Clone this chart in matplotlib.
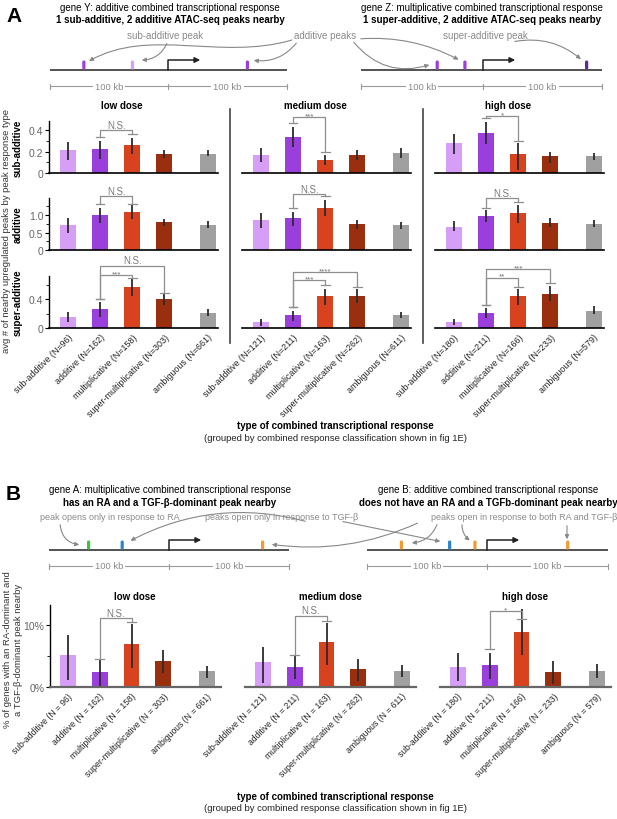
import matplotlib
matplotlib.use("Agg")
import matplotlib.pyplot as plt
from matplotlib.patches import FancyArrowPatch, FancyBboxPatch
from matplotlib.path import Path

plt.rcParams["font.family"] = ["Liberation Sans", "DejaVu Sans"]

# ---- data -----------------------------------------------------------------
CATEGORIES = ["sub-additive", "additive", "multiplicative", "super-multiplicative", "ambiguous"]
DOSES = ["low dose", "medium dose", "high dose"]
ROW_NAMES = ["sub-additive", "additive", "super-additive"]

N_LOW = [96, 162, 158, 303, 661]
N_MED = [121, 211, 163, 262, 611]
N_HIGH = [180, 211, 166, 233, 579]

# panel A: avg # of nearby upregulated peaks, rows = peak response type
A_LOW_MEAN = [[0.21, 0.22, 0.26, 0.18, 0.18],
              [0.71, 1.00, 1.10, 0.80, 0.73],
              [0.15, 0.26, 0.57, 0.40, 0.21]]
A_LOW_LO = [[0.12, 0.13, 0.18, 0.14, 0.16],
            [0.50, 0.78, 0.90, 0.68, 0.64],
            [0.08, 0.16, 0.45, 0.32, 0.17]]
A_LOW_HI = [[0.29, 0.30, 0.33, 0.21, 0.21],
            [0.92, 1.20, 1.28, 0.90, 0.82],
            [0.22, 0.36, 0.68, 0.47, 0.26]]

A_MED_MEAN = [[0.165, 0.34, 0.125, 0.165, 0.19],
              [0.86, 0.92, 1.21, 0.74, 0.72],
              [0.08, 0.18, 0.44, 0.45, 0.18]]
A_MED_LO = [[0.10, 0.245, 0.073, 0.12, 0.14],
            [0.64, 0.69, 0.97, 0.61, 0.61],
            [0.03, 0.10, 0.32, 0.35, 0.14]]
A_MED_HI = [[0.23, 0.43, 0.165, 0.21, 0.23],
            [1.07, 1.09, 1.42, 0.85, 0.81],
            [0.13, 0.24, 0.55, 0.54, 0.22]]

A_HIGH_MEAN = [[0.28, 0.375, 0.175, 0.155, 0.155],
               [0.67, 0.97, 1.07, 0.78, 0.75],
               [0.09, 0.21, 0.44, 0.48, 0.24]]
A_HIGH_LO = [[0.18, 0.27, 0.03, 0.095, 0.12],
             [0.55, 0.80, 0.78, 0.67, 0.66],
             [0.04, 0.14, 0.32, 0.38, 0.19]]
A_HIGH_HI = [[0.36, 0.48, 0.28, 0.20, 0.19],
             [0.83, 1.14, 1.30, 0.92, 0.86],
             [0.13, 0.28, 0.54, 0.58, 0.30]]

# significance brackets: (row, bar i, bar j, line height, end i, end j, label)
A_LOW_SIG = [(0, 1, 2, 0.40, 0.333, 0.36, "N.S."), (1, 1, 2, 1.54, 1.32, 1.32, "N.S."),
             (2, 1, 2, 0.74, 0.40, 0.70, "***"), (2, 1, 3, 0.87, 0.40, 0.49, "N.S.")]
A_MED_SIG = [(0, 1, 2, 0.52, 0.47, 0.20, "***"), (1, 1, 2, 1.60, 1.19, 1.54, "N.S."),
             (2, 1, 2, 0.67, 0.29, 0.60, "***"), (2, 1, 3, 0.78, 0.29, 0.57, "****")]
A_HIGH_SIG = [(0, 1, 2, 0.53, 0.51, 0.30, "*"), (1, 1, 2, 1.49, 1.21, 1.38, "N.S."),
              (2, 1, 2, 0.70, 0.32, 0.57, "**"), (2, 1, 3, 0.82, 0.32, 0.63, "***")]

A_YLIM = [0.485, 1.49, 0.725]
A_YTICKS = [[0, 0.2, 0.4], [0, 0.5, 1.0], [0, 0.4]]
A_YTICKLABELS = [["0", "0.2", "0.4"], ["0", "0.5", "1.0"], ["0", "0.4"]]
A_YMINOR = [[0.1, 0.3], [0.25, 0.75, 1.25], [0.2, 0.6]]

# panel B: % of genes with an RA-dominant and a TGF-b-dominant peak nearby
B_LOW_MEAN = [5.2, 2.45, 6.9, 4.2, 2.55]
B_LOW_LO = [1.1, 0.2, 3.1, 2.3, 1.4]
B_LOW_HI = [8.3, 4.4, 10.2, 5.9, 3.45]
B_MED_MEAN = [4.0, 3.2, 7.2, 2.9, 2.6]
B_MED_LO = [0.6, 1.3, 3.55, 1.0, 1.65]
B_MED_HI = [6.45, 5.0, 10.3, 4.45, 3.55]
B_HIGH_MEAN = [3.2, 3.6, 8.9, 2.35, 2.6]
B_HIGH_LO = [1.0, 1.3, 5.2, 0.45, 1.5]
B_HIGH_HI = [5.4, 5.5, 12.5, 4.15, 3.7]
B_SIG = [(1, 2, 11.1, 4.5, 10.4, "N.S."), (1, 2, 11.5, 5.2, 10.7, "N.S."),
         (1, 2, 12.2, 6.1, 11.0, "*")]

# schematic peak positions (kb from TSS)
GENE_Y_PEAKS = [-71, -30, 67]
GENE_Z_PEAKS = [-38, -15, 86]
GENE_A_PEAKS = [-67, -39, 78]
GENE_B_PEAKS = [-71, -31, -10, 67]

# ---- style ----------------------------------------------------------------
BAR_COLORS = ["#d69ef6", "#9a3edc", "#d8421f", "#9a2f10", "#a0a0a0"]
XPOS = [0, 1, 2, 3, 4.35]
SUPER_PEAK = "#5e2a8c"
GREEN, BLUE, ORANGE = "#3ec43e", "#2b86c9", "#f29a2e"
GREY_TXT = "#8a8a8a"
BRACKET = "#8e8e8e"

W, H = 617, 820
fig = plt.figure(figsize=(W / 100, H / 100), dpi=100)


def px_axes(x, y, w, h):
    return fig.add_axes([x / W, 1 - (y + h) / H, w / W, h / H])


def bracket(ax, x0, x1, top, y0, y1, label, cap=0.13):
    kw = dict(color=BRACKET, lw=0.9, clip_on=False, zorder=4)
    ax.plot([x0, x0, x1, x1], [y0, top, top, y1], **kw)
    ax.plot([x0 - cap, x0 + cap], [y0, y0], **kw)
    ax.plot([x1 - cap, x1 + cap], [y1, y1], **kw)
    if label == "N.S.":
        ax.annotate(label, xy=((x0 + x1) / 2, top), xytext=(0, 0.3), textcoords="offset points",
                    ha="center", va="bottom", fontsize=7, color="#7a7a7a", annotation_clip=False)
    else:
        ax.annotate(label, xy=((x0 + x1) / 2, top), xytext=(0, 0), textcoords="offset points",
                    ha="center", va="baseline", fontsize=5.8, color="#6e6e6e",
                    annotation_clip=False)


def bar_panel(ax, mean, lo, hi, xlim, ylim):
    ax.bar(XPOS, mean, width=0.5, color=BAR_COLORS, zorder=2)
    ax.vlines(XPOS, lo, hi, color="#2b2b2b", lw=1.3, zorder=3)
    ax.set_xlim(*xlim)
    ax.set_ylim(0, ylim)
    for s in ("top", "right"):
        ax.spines[s].set_visible(False)
    ax.spines["bottom"].set_linewidth(1.2)
    ax.spines["left"].set_linewidth(1.0)
    ax.set_facecolor("none")
    ax.tick_params(axis="x", length=0)
    ax.tick_params(axis="y", labelsize=7.5, labelcolor="#666666", length=3, width=0.8, pad=1)
    ax.tick_params(axis="y", which="minor", length=2, width=0.6)


# ---- panel A bar grid -------------------------------------------------------
A_LEFT = [49, 242, 435]
A_TOP = [122, 199, 277]
A_W, A_H = 169, 52
a_means = [A_LOW_MEAN, A_MED_MEAN, A_HIGH_MEAN]
a_los = [A_LOW_LO, A_MED_LO, A_HIGH_LO]
a_his = [A_LOW_HI, A_MED_HI, A_HIGH_HI]
a_sigs = [A_LOW_SIG, A_MED_SIG, A_HIGH_SIG]
n_all = [N_LOW, N_MED, N_HIGH]

for c in range(3):
    axes = []
    for r in range(3):
        ax = px_axes(A_LEFT[c], A_TOP[r], A_W, A_H)
        bar_panel(ax, a_means[c][r], a_los[c][r], a_his[c][r], (-0.6, 4.67), A_YLIM[r])
        if c == 0:
            ax.set_yticks(A_YTICKS[r])
            ax.set_yticklabels(A_YTICKLABELS[r])
            ax.set_yticks(A_YMINOR[r], minor=True)
        else:
            ax.spines["left"].set_visible(False)
            ax.set_yticks([])
        if r == 2:
            ax.set_xticks(XPOS)
            ax.set_xticklabels([f"{k} (N={n})" for k, n in zip(CATEGORIES, n_all[c])],
                               rotation=45, ha="right", rotation_mode="anchor",
                               fontsize=6.4, color="#222222")
            ax.tick_params(axis="x", pad=3)
        else:
            ax.set_xticks([])
        axes.append(ax)
    for (r, i, j, top, yi, yj, lab) in a_sigs[c]:
        bracket(axes[r], XPOS[i], XPOS[j], top, yi, yj, lab)

# ---- panel B bars -----------------------------------------------------------
B_LEFT = [50, 245, 440]
B_TOP, B_H, B_W = 606, 82, 171
b_means = [B_LOW_MEAN, B_MED_MEAN, B_HIGH_MEAN]
b_los = [B_LOW_LO, B_MED_LO, B_HIGH_LO]
b_his = [B_LOW_HI, B_MED_HI, B_HIGH_HI]
for c in range(3):
    ax = px_axes(B_LEFT[c], B_TOP, B_W, B_H)
    bar_panel(ax, b_means[c], b_los[c], b_his[c], (-0.55, 4.8), 13.2)
    ax.spines["bottom"].set_color("#666666")
    ax.spines["bottom"].set_linewidth(1.6)
    if c == 0:
        ax.set_yticks([0, 10])
        ax.set_yticklabels(["0%", "10%"])
        ax.set_yticks([5], minor=True)
    else:
        ax.spines["left"].set_visible(False)
        ax.set_yticks([])
    ax.set_xticks(XPOS)
    ax.set_xticklabels([f"{k} (N = {n})" for k, n in zip(CATEGORIES, n_all[c])],
                       rotation=45, ha="right", rotation_mode="anchor",
                       fontsize=6.2, color="#222222")
    ax.tick_params(axis="x", pad=3)
    i, j, top, yi, yj, lab = B_SIG[c]
    bracket(ax, XPOS[i], XPOS[j], top, yi, yj, lab)

# ---- overlay: text and schematics ------------------------------------------
ov = fig.add_axes([0, 0, 1, 1])
ov.set_xlim(0, W)
ov.set_ylim(H, 0)
ov.axis("off")


def schematic(x0, x1, tss, line_y, peaks, colors):
    scale = (x1 - x0) / 200.0
    ov.plot([x0, x1], [line_y, line_y], color="#444444", lw=1.3, solid_capstyle="butt")
    for kb, col in zip(peaks, colors):
        px = tss + kb * scale
        ov.add_patch(FancyBboxPatch((px - 1.6, line_y - 9.5), 3.2, 9.0,
                                    boxstyle="round,pad=0,rounding_size=1.5",
                                    fc=col, ec="none", zorder=5))
    ov.plot([tss, tss, tss + 28], [line_y, line_y - 10, line_y - 10], color="#222222", lw=1.1)
    ov.annotate("", xy=(tss + 35, line_y - 10), xytext=(tss + 24, line_y - 10),
                arrowprops=dict(arrowstyle="-|>", color="#222222", lw=1.1, mutation_scale=8))
    sy = line_y + 16
    ov.plot([x0, x1], [sy, sy], color="#9a9a9a", lw=0.8)
    for xx in (x0, tss, x1):
        ov.plot([xx, xx], [sy - 2.5, sy + 2.5], color="#9a9a9a", lw=0.8)
    for mid in ((x0 + tss) / 2, (tss + x1) / 2):
        ov.text(mid, sy, "100 kb", ha="center", va="center", fontsize=6.8, color=GREY_TXT,
                bbox=dict(fc="white", ec="none", pad=1.5))


def arrow(p0, p1, rad=0.0):
    style = "arc3,rad=%.2f" % rad
    ov.add_patch(FancyArrowPatch(p0, p1, connectionstyle=style, arrowstyle="-|>",
                                 mutation_scale=6, color="#888888", lw=0.8, zorder=6))


def curve(pts):
    path = Path(pts, [Path.MOVETO, Path.CURVE4, Path.CURVE4, Path.CURVE4])
    ov.add_patch(FancyArrowPatch(path=path, arrowstyle="-|>", mutation_scale=6,
                                 color="#888888", lw=0.8, zorder=6))


# panel A header
ov.text(6, 16, "A", fontsize=15, fontweight="bold", va="center", ha="left")
ov.text(170, 8, "gene Y: additive combined transcriptional response", ha="center", va="center",
        fontsize=7)
ov.text(170, 20, "1 sub-additive, 2 additive ATAC-seq peaks nearby", ha="center", va="center",
        fontsize=7, fontweight="bold")
ov.text(482, 8, "gene Z: multiplicative combined transcriptional response", ha="center",
        va="center", fontsize=7)
ov.text(482, 20, "1 super-additive, 2 additive ATAC-seq peaks nearby", ha="center",
        va="center", fontsize=7, fontweight="bold")
ov.text(165, 36, "sub-additive peak", ha="center", va="center", fontsize=7, color=GREY_TXT)
ov.text(325, 36, "additive peaks", ha="center", va="center", fontsize=7, color=GREY_TXT)
ov.text(485, 36, "super-additive peak", ha="center", va="center", fontsize=7, color=GREY_TXT)
schematic(50, 287, 168, 71, GENE_Y_PEAKS, [BAR_COLORS[1], BAR_COLORS[0], BAR_COLORS[1]])
schematic(361, 602, 483, 71, GENE_Z_PEAKS, [BAR_COLORS[1], BAR_COLORS[1], SUPER_PEAK])
arrow((168, 42), (139, 61), rad=-0.35)
curve([(292, 41), (220, 62), (150, 28), (89, 62)])
arrow((298, 42), (251, 61), rad=-0.3)
arrow((352, 41), (432, 65), rad=0.35)
arrow((358, 40), (461, 62), rad=-0.15)
arrow((512, 43), (583, 62), rad=-0.25)

# panel A labels
for c, d in enumerate(DOSES):
    ov.text(A_LEFT[c] + 73, 106, d, ha="center", va="center", fontsize=7, fontweight="bold")
for r, name in enumerate(ROW_NAMES):
    ov.text(18, A_TOP[r] + A_H / 2, name, rotation=90, ha="center", va="center",
            fontsize=7, fontweight="bold")
ov.text(7, 231, "avg # of nearby upregulated peaks by peak response type", rotation=90,
        ha="center", va="center", fontsize=6.8, color="#333333")
for xs in (230, 423):
    ov.plot([xs, xs], [110, 344], color="#444444", lw=1.2)
ov.text(335, 426, "type of combined transcriptional response", ha="center", va="center",
        fontsize=7, fontweight="bold")
ov.text(335, 439, "(grouped by combined response classification shown in fig 1E)",
        ha="center", va="center", fontsize=6.8, color="#222222")

# panel B header
ov.text(6, 495, "B", fontsize=15, fontweight="bold", va="center", ha="left")
ov.text(170, 490, "gene A: multiplicative combined transcriptional response", ha="center",
        va="center", fontsize=7)
ov.text(170, 503, "has an RA and a TGF-\u03b2-dominant peak nearby", ha="center",
        va="center", fontsize=7, fontweight="bold")
ov.text(488, 490, "gene B: additive combined transcriptional response", ha="center",
        va="center", fontsize=7)
ov.text(488, 503, "does not have an RA and a TGFb-dominant peak nearby", ha="center",
        va="center", fontsize=7, fontweight="bold")
ov.text(110, 518, "peak opens only in response to RA", ha="center", va="center",
        fontsize=6.5, color=GREY_TXT)
ov.text(282, 518, "peaks open only in response to TGF-\u03b2", ha="center", va="center",
        fontsize=6.5, color=GREY_TXT)
ov.text(617, 518, "peaks open in response to both RA and TGF-\u03b2", ha="right",
        va="center", fontsize=6.5, color=GREY_TXT)
schematic(49, 289, 169, 551, GENE_A_PEAKS, [GREEN, BLUE, ORANGE])
schematic(367, 608, 487, 551, GENE_B_PEAKS, [ORANGE, BLUE, ORANGE, ORANGE])
arrow((60, 523), (82, 546), rad=0.45)
arrow((308, 523), (128, 543), rad=0.2)
arrow((340, 522), (443, 543))
arrow((420, 523), (269, 545), rad=-0.15)
arrow((438, 523), (409, 544), rad=-0.35)
arrow((462, 523), (472, 543), rad=0.3)
arrow((567, 524), (567, 543))

for c, d in enumerate(DOSES):
    ov.text(B_LEFT[c] + 85, 597, d, ha="center", va="center", fontsize=7, fontweight="bold")
ov.text(8, 650, "% of genes with an RA-dominant and", rotation=90, ha="center",
        va="center", fontsize=6.8, color="#333333")
ov.text(19, 650, "a TGF-\u03b2-dominant peak nearby", rotation=90, ha="center",
        va="center", fontsize=6.8, color="#333333")
ov.text(335, 797, "type of combined transcriptional response", ha="center", va="center",
        fontsize=7, fontweight="bold")
ov.text(335, 809, "(grouped by combined response classification shown in fig 1E)",
        ha="center", va="center", fontsize=6.8, color="#222222")

fig.savefig("out.png", dpi=100)
